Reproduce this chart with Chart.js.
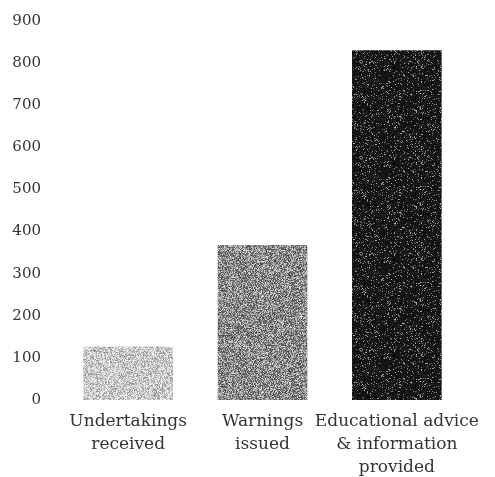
<!DOCTYPE html>
<html>
<head>
<meta charset="utf-8">
<script src="https://cdn.jsdelivr.net/npm/chart.js@4/dist/chart.umd.min.js"></script>
<style>
  html, body { margin: 0; padding: 0; background: #ffffff; }
  #wrap { position: relative; width: 495px; height: 477px; }
</style>
</head>
<body>
<div id="wrap"><canvas id="c" width="495" height="477"></canvas></div>
<script>
// Enforcement actions by type
const categories = [
  ['Undertakings', 'received'],
  ['Warnings', 'issued'],
  ['Educational advice', '& information', 'provided']
];
const counts = [126, 367, 830];
const yTicks = [0, 100, 200, 300, 400, 500, 600, 700, 800, 900];

// Stippled fill for each bar: a small tile of grainy grey dots.
function stipple(seed, pick) {
  const size = 96;
  const tile = document.createElement('canvas');
  tile.width = size; tile.height = size;
  const g = tile.getContext('2d');
  const img = g.createImageData(size, size);
  let s = seed >>> 0;
  const next = () => { s = (s * 1664525 + 1013904223) >>> 0; return s / 4294967296; };
  for (let i = 0; i < size * size; i++) {
    const v = Math.max(0, Math.min(255, Math.round(pick(next))));
    img.data[i * 4] = v; img.data[i * 4 + 1] = v; img.data[i * 4 + 2] = v; img.data[i * 4 + 3] = 255;
  }
  g.putImageData(img, 0, 0);
  return g.createPattern(tile, 'repeat');
}
const ctx = document.getElementById('c').getContext('2d');
const fills = [
  stipple(11, r => (r() < 0.45 ? 140 + r() * 60 : 200 + r() * 50)),
  stipple(23, r => (r() < 0.5 ? 70 + r() * 60 : 140 + r() * 80)),
  stipple(37, r => (r() < 0.10 ? 90 + r() * 90 : 8 + r() * 28))
];

const serif = '"DejaVu Serif", "Liberation Serif", serif';

new Chart(ctx, {
  type: 'bar',
  data: {
    labels: categories,
    datasets: [{
      data: counts,
      backgroundColor: fills,
      borderWidth: 0,
      barThickness: 89
    }]
  },
  options: {
    responsive: false,
    animation: false,
    layout: { padding: { top: 9, right: 31, bottom: 0, left: 0 } },
    plugins: { legend: { display: false }, tooltip: { enabled: false } },
    scales: {
      x: {
        grid: { display: false },
        border: { display: false },
        ticks: {
          color: '#333',
          padding: 2,
          maxRotation: 0,
          autoSkip: false,
          font: { family: serif, size: 17, lineHeight: '23px' }
        },
        afterFit: s => { s.height = 77; }
      },
      y: {
        min: 0,
        max: 900,
        afterBuildTicks: s => { s.ticks = yTicks.map(v => ({ value: v })); },
        grid: { display: false },
        border: { display: false },
        ticks: {
          color: '#333',
          padding: 12,
          font: { family: serif, size: 15 }
        },
        afterFit: s => { s.width = 61; }
      }
    }
  }
});
</script>
</body>
</html>
